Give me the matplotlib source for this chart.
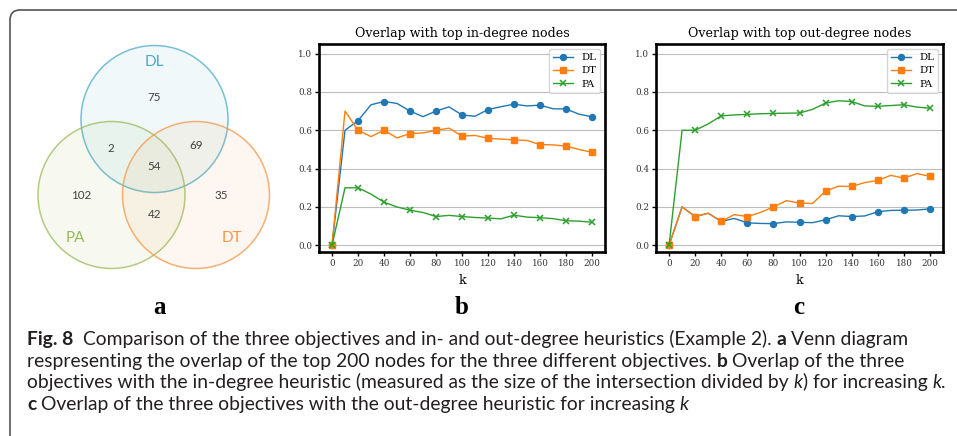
import matplotlib
matplotlib.use("Agg")
import matplotlib.pyplot as plt
from matplotlib.patches import Circle, PathPatch
from matplotlib.path import Path
from matplotlib.colors import to_rgba

# ---- data -------------------------------------------------------------
k_values = list(range(0, 201, 10))

in_dl = [0.0, 0.600, 0.650, 0.733, 0.750, 0.740, 0.700, 0.671, 0.700, 0.722, 0.680,
         0.673, 0.708, 0.723, 0.736, 0.727, 0.731, 0.712, 0.711, 0.684, 0.670]
in_dt = [0.0, 0.700, 0.600, 0.567, 0.600, 0.560, 0.583, 0.586, 0.600, 0.611, 0.570,
         0.573, 0.558, 0.554, 0.550, 0.547, 0.525, 0.524, 0.517, 0.500, 0.485]
in_pa = [0.0, 0.300, 0.300, 0.267, 0.225, 0.200, 0.183, 0.171, 0.150, 0.156, 0.150,
         0.145, 0.142, 0.138, 0.157, 0.147, 0.144, 0.139, 0.128, 0.126, 0.120]

out_dl = [0.0, 0.200, 0.150, 0.167, 0.125, 0.140, 0.117, 0.114, 0.113, 0.122, 0.120,
          0.118, 0.133, 0.154, 0.150, 0.153, 0.175, 0.182, 0.183, 0.184, 0.190]
out_dt = [0.0, 0.200, 0.150, 0.167, 0.125, 0.160, 0.150, 0.171, 0.200, 0.233, 0.220,
          0.218, 0.283, 0.308, 0.307, 0.327, 0.338, 0.365, 0.350, 0.374, 0.360]
out_pa = [0.0, 0.600, 0.600, 0.633, 0.675, 0.680, 0.683, 0.686, 0.688, 0.689, 0.690,
          0.709, 0.742, 0.754, 0.750, 0.727, 0.725, 0.729, 0.733, 0.721, 0.715]

series_names = ["DL", "DT", "PA"]
x_ticks = list(range(0, 201, 20))
y_ticks = [0.0, 0.2, 0.4, 0.6, 0.8, 1.0]

# Venn region counts (top 200 nodes of each objective)
venn_sets = ["DL", "PA", "DT"]
venn_regions = ["DL", "DL&PA", "DL&DT", "DL&PA&DT", "PA", "DT", "PA&DT"]
venn_counts = [75, 2, 69, 54, 102, 35, 42]

# ---- figure -----------------------------------------------------------
W, H = 957, 436
fig = plt.figure(figsize=(W / 100, H / 100), dpi=100, facecolor="white")

# pixel-coordinate canvas for frame, Venn diagram, letters and caption
bg = fig.add_axes([0, 0, 1, 1], zorder=0)
bg.set_xlim(0, W)
bg.set_ylim(H, 0)
bg.axis("off")

# open frame: left edge, rounded corner, top edge
rc = 10
frame_path = Path([(10, H + 5), (10, 10 + rc), (10, 10), (10 + rc, 10), (W + 5, 10)],
                  [Path.MOVETO, Path.LINETO, Path.CURVE3, Path.CURVE3, Path.LINETO])
bg.add_patch(PathPatch(frame_path, fc="none", ec="#555555", lw=1.2))

# Venn diagram
venn_style = {
    "DL": dict(center=(154.5, 119), color="#4bacc6", label_xy=(154.5, 62)),
    "PA": dict(center=(111.5, 195), color="#9bbb59", label_xy=(75, 238)),
    "DT": dict(center=(196.0, 195), color="#f79646", label_xy=(232, 238)),
}
radius = 73.5
for name in venn_sets:
    st = venn_style[name]
    bg.add_patch(Circle(st["center"], radius, fc=to_rgba(st["color"], 0.08),
                        ec=to_rgba(st["color"], 0.75), lw=1.1))
    bg.text(*st["label_xy"], name, color=st["color"], fontsize=11, family="Lato",
            ha="center", va="center")

region_xy = {
    "DL": (154.5, 97), "DL&PA": (111, 148), "DL&DT": (196, 145),
    "DL&PA&DT": (154.5, 166), "PA": (81, 195), "DT": (221, 195), "PA&DT": (154.5, 214),
}
for reg, cnt in zip(venn_regions, venn_counts):
    bg.text(*region_xy[reg], str(cnt), color="#404040", fontsize=8.4, family="Lato",
            ha="center", va="center")

# ---- line panels -------------------------------------------------------
colors = {"DL": "#1f77b4", "DT": "#ff7f0e", "PA": "#2ca02c"}
markers = {"DL": "o", "DT": "s", "PA": "x"}


def panel(rect, title, values):
    ax = fig.add_axes(rect, zorder=2)
    for name, vals in zip(series_names, values):
        ax.plot(k_values, vals, color=colors[name], marker=markers[name], markevery=2,
                ms=4.3, mew=1.1 if name == "PA" else 1.0, lw=1.0, label=name)
    ax.set_xlim(-10, 210)
    ax.set_ylim(-0.035, 1.05)
    ax.set_xticks(x_ticks)
    ax.set_yticks(y_ticks)
    ax.yaxis.set_major_formatter("{x:.1f}")
    ax.grid(axis="y", color="#bdbdbd", lw=0.8)
    ax.set_axisbelow(True)
    for s in ax.spines.values():
        s.set_linewidth(1.9)
    ax.tick_params(labelsize=6.3, length=3, width=1, pad=2)
    for lab in ax.get_xticklabels() + ax.get_yticklabels():
        lab.set_family("DejaVu Serif")
        lab.set_color("#333333")
    ax.set_title(title, fontsize=9.1, family="DejaVu Serif", pad=5)
    ax.set_xlabel("k", fontsize=9, family="DejaVu Serif", labelpad=4)
    ax.legend(loc="upper right", prop={"family": "DejaVu Serif", "size": 7.3},
              handlelength=2.0, labelspacing=0.4, borderpad=0.4)
    return ax


ax_b = panel([319 / W, 1 - 252 / H, 286 / W, 208 / H],
             "Overlap with top in-degree nodes", [in_dl, in_dt, in_pa])
ax_c = panel([656 / W, 1 - 252 / H, 287 / W, 208 / H],
             "Overlap with top out-degree nodes", [out_dl, out_dt, out_pa])

# panel letters
for letter, xc in zip(["a", "b", "c"], [160, 462, 799]):
    bg.text(xc, 307, letter, fontsize=18, family="Liberation Serif", weight="bold",
            ha="center", va="center")

# ---- caption -----------------------------------------------------------
CAP_FONT = "Lato"
R, B, I = ("normal", "normal"), ("bold", "normal"), ("normal", "italic")
caption = [
    [("Fig. 8", B), ("  Comparison of the three objectives and in- and out-degree "
                     "heuristics (Example 2).", R), (" a", B), (" Venn diagram", R)],
    [("respresenting the overlap of the top 200 nodes for the three different "
      "objectives.", R), (" b", B), (" Overlap of the three", R)],
    [("objectives with the in-degree heuristic (measured as the size of the "
      "intersection divided by", R), (" k", I), (") for increasing", R), (" k", I),
     (".", R)],
    [("c", B), (" Overlap of the three objectives with the out-degree heuristic for "
                "increasing", R), (" k", I)],
]
baselines = [345, 366.5, 388, 409.5]
renderer = fig.canvas.get_renderer()


def text_width(s, size, wt=R):
    t = bg.text(0, 0, s, fontsize=size, family=CAP_FONT, weight=wt[0], style=wt[1])
    w = t.get_window_extent(renderer).width
    t.remove()
    return w


def line_width(runs, size):
    sp = text_width("a a", size) - text_width("aa", size)
    total = 0
    for s, wt in runs:
        n = len(s) - len(s.lstrip(" "))
        total += n * sp + text_width(s.strip(" "), size, wt)
    return total


ref_size = 10
cap_size = ref_size * 923 / line_width(caption[2], ref_size)
space = text_width("a a", cap_size) - text_width("aa", cap_size)

for runs, yb in zip(caption, baselines):
    cx = 27
    for s, wt in runs:
        n = len(s) - len(s.lstrip(" "))
        cx += n * space
        t = bg.text(cx, yb, s.strip(" "), fontsize=cap_size, family=CAP_FONT,
                    weight=wt[0], style=wt[1], color="#231f20", ha="left", va="baseline")
        cx += t.get_window_extent(renderer).width

fig.savefig("out.png", dpi=100, facecolor="white")
